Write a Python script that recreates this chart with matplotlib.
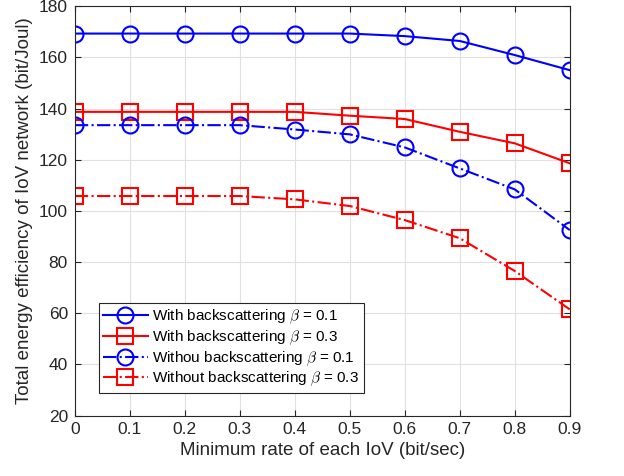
import matplotlib
matplotlib.use('Agg')
import matplotlib.pyplot as plt

plt.rcParams['font.family'] = ['Liberation Sans', 'DejaVu Sans']
plt.rcParams['mathtext.fontset'] = 'cm'

rate = [0, 0.1, 0.2, 0.3, 0.4, 0.5, 0.6, 0.7, 0.8, 0.9]
with_b01 = [169.3, 169.3, 169.3, 169.3, 169.3, 169.3, 168.3, 166.4, 160.9, 155.0]
with_b03 = [138.7, 138.7, 138.7, 138.7, 138.7, 137.2, 135.9, 130.9, 126.4, 118.6]
without_b01 = [133.5, 133.5, 133.5, 133.5, 131.8, 129.9, 124.8, 116.6, 108.4, 92.5]
without_b03 = [105.8, 105.8, 105.8, 105.8, 104.5, 101.9, 96.4, 89.3, 76.5, 61.5]

labels = [r'With backscattering $\beta$ = 0.1',
          r'With backscattering $\beta$ = 0.3',
          r'Withou backscattering $\beta$ = 0.1',
          r'Without backscattering $\beta$ = 0.3']

fig = plt.figure(figsize=(6.24, 4.76), dpi=100)
ax = fig.add_axes([0.12, 0.127, 0.793, 0.86])

style = dict(markersize=11.5, linewidth=1.5, markerfacecolor='none', markeredgewidth=1.5)
ax.plot(rate, with_b01, '-o', color='#0000ff', label=labels[0], **style)
ax.plot(rate, with_b03, '-s', color='#ff0000', label=labels[1], **style)
ax.plot(rate, without_b01, '-.o', color='#0000ff', label=labels[2], **style)
ax.plot(rate, without_b03, '-.s', color='#ff0000', label=labels[3], **style)

ax.set_xlim(0, 0.9)
ax.set_ylim(20, 180)
ax.set_xticks(rate)
ax.set_xticklabels(['0', '0.1', '0.2', '0.3', '0.4', '0.5', '0.6', '0.7', '0.8', '0.9'])
ax.set_yticks(range(20, 181, 20))
ax.grid(True, color='#e0e0e0', linewidth=0.8)
ax.set_axisbelow(True)
ax.tick_params(direction='in', top=True, right=True, labelsize=12.5, colors='#262626', length=4, pad=5)
for s in ax.spines.values():
    s.set_color('#262626')
    s.set_linewidth(0.8)

ax.set_xlabel('Minimum rate of each IoV (bit/sec)', fontsize=13.5, color='#262626', labelpad=3)
ax.set_ylabel('Total energy efficiency of IoV network (bit/Joul)', fontsize=13.5, color='#262626', labelpad=4)

leg = ax.legend(loc='lower left', bbox_to_anchor=(0.048, 0.055), fontsize=11, fancybox=False,
                framealpha=1, edgecolor='#262626', borderpad=0.3, labelspacing=0.15,
                handlelength=2.9, handletextpad=0.3, borderaxespad=0)
leg.get_frame().set_linewidth(0.8)

plt.savefig('out.png', dpi=100)
